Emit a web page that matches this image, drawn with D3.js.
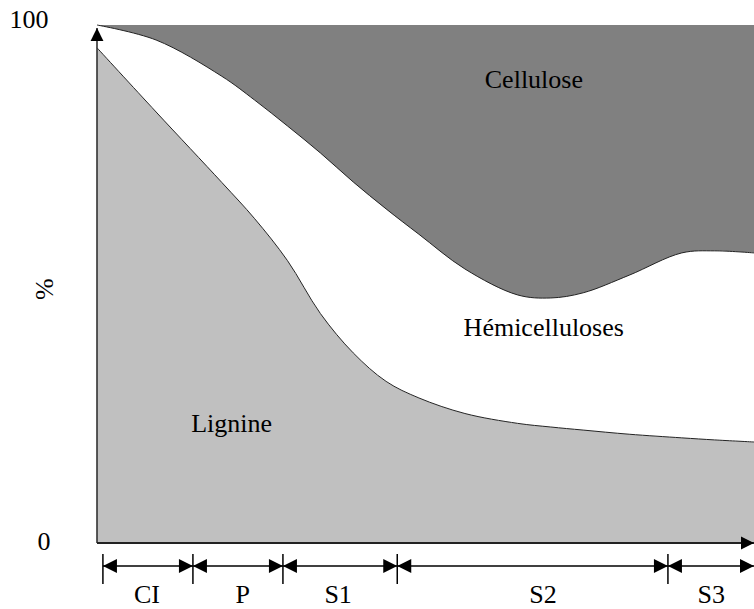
<!DOCTYPE html>
<html>
<head>
<meta charset="utf-8">
<script src="https://cdn.jsdelivr.net/npm/d3@7"></script>
<style>
  html, body { margin: 0; padding: 0; background: #fff; }
  svg { display: block; }
  svg text { font-family: "Liberation Serif", "Times New Roman", "DejaVu Serif", serif; }
</style>
</head>
<body>
<div id="chart"></div>
<script>
// ── Data (x = position across the wall, 0..100 ; values in %) ──────────

const xPos        = [0, 9, 19, 24, 29, 34, 39, 44, 49, 56, 64, 69, 74, 81, 89, 94, 100];
const lignine     = [95.6, 83.2, 69.6, 62.6, 54.5, 44.3, 36.7, 31.2, 28.0, 25.0, 23.1, 22.4, 21.8, 21.0, 20.3, 19.9, 19.5];
const hemicell    = [4.4, 13.9, 20.5, 22.9, 26.0, 31.0, 33.0, 33.3, 31.6, 27.9, 24.8, 24.9, 26.5, 30.7, 35.7, 36.5, 36.5];
const cellulose   = [0.0, 2.9, 9.9, 14.5, 19.5, 24.7, 30.3, 35.5, 40.4, 47.1, 52.1, 52.7, 51.7, 48.3, 44.0, 43.6, 44.0];

const layerNames  = ["Lignine", "Hémicelluloses", "Cellulose"];
const layerLabelX = [20.5, 68.0, 66.5];
const layerLabelY = [21.4, 39.9, 87.8];

const layerBounds = [0.9, 14.6, 28.3, 45.7, 86.9, 100];
const layerTags   = ["CI", "P", "S1", "S2", "S3"];
const layerTagX   = [7.6, 22.2, 36.7, 67.9, 93.5];

const yTicks = [0, 100];

// ── Setup ──────────────────────────────────────────────────────────────

const W = 754, H = 609;
const svg = d3.select("#chart").append("svg").attr("width", W).attr("height", H);

const x = d3.scaleLinear().domain([0, 100]).range([97, 754]);
const y = d3.scaleLinear().domain([0, 100]).range([543, 25]);

const table = xPos.map((p, i) => ({
  pos: p, Lignine: lignine[i], "Hémicelluloses": hemicell[i], Cellulose: cellulose[i]
}));
const series = d3.stack().keys(layerNames)(table);

const FILL = { "Lignine": "#c0c0c0", "Hémicelluloses": "#ffffff", "Cellulose": "#808080" };
const curve = d3.curveCatmullRom.alpha(0.5);

// ── Markers ────────────────────────────────────────────────────────────

const defs = svg.append("defs");
defs.append("marker").attr("id", "head")
  .attr("viewBox", "0 0 10 10").attr("refX", 10).attr("refY", 5)
  .attr("markerUnits", "userSpaceOnUse").attr("markerWidth", 16).attr("markerHeight", 14)
  .attr("orient", "auto-start-reverse")
  .append("path").attr("d", "M0,0L10,5L0,10Z").attr("fill", "#000");
defs.append("marker").attr("id", "axhead")
  .attr("viewBox", "0 0 10 10").attr("refX", 10).attr("refY", 5)
  .attr("markerUnits", "userSpaceOnUse").attr("markerWidth", 13).attr("markerHeight", 15)
  .attr("orient", "auto")
  .append("path").attr("d", "M0,0L10,5L0,10Z").attr("fill", "#000");

// ── Areas ──────────────────────────────────────────────────────────────

const area = d3.area().curve(curve)
  .x(d => x(d.data.pos)).y0(d => y(d[0])).y1(d => y(d[1]));

svg.append("g").selectAll("path").data(series).join("path")
  .attr("d", area).attr("fill", s => FILL[s.key]);

const edge = d3.line().curve(curve)
  .x(d => x(d.data.pos)).y(d => y(d[1]));

svg.append("g").selectAll("path").data(series.slice(0, 2)).join("path")
  .attr("d", edge).attr("fill", "none").attr("stroke", "#222").attr("stroke-width", 1);

// ── Layer labels ───────────────────────────────────────────────────────

svg.append("g").selectAll("text").data(layerNames).join("text")
  .attr("x", (d, i) => x(layerLabelX[i])).attr("y", (d, i) => y(layerLabelY[i]))
  .attr("text-anchor", "middle").attr("font-size", 26).attr("fill", "#000")
  .text(d => d);

// ── Axes ───────────────────────────────────────────────────────────────

svg.append("line")
  .attr("x1", x(0)).attr("y1", y(0)).attr("x2", x(0)).attr("y2", y(99.4))
  .attr("stroke", "#333").attr("stroke-width", 1.6).attr("marker-end", "url(#axhead)");
svg.append("line")
  .attr("x1", x(0)).attr("y1", y(0)).attr("x2", x(100)).attr("y2", y(0))
  .attr("stroke", "#222").attr("stroke-width", 1.8).attr("marker-end", "url(#axhead)");

svg.append("g").selectAll("text").data(yTicks).join("text")
  .attr("x", d => d === 0 ? 44 : 29).attr("y", d => y(d) + (d === 0 ? 7 : 3))
  .attr("text-anchor", "middle").attr("font-size", 26).text(d => d);

svg.append("text")
  .attr("transform", `translate(53,${y(49)}) rotate(-90)`)
  .attr("text-anchor", "middle").attr("font-size", 26).text("%");

// ── Wall layers (CI, P, S1, S2, S3) ───────────────────────────────────

const segY = 566;
const segs = layerTags.map((t, i) => ({ t, a: layerBounds[i], b: layerBounds[i + 1], lx: layerTagX[i] }));

const sg = svg.append("g");
sg.selectAll("line.seg").data(segs).join("line").attr("class", "seg")
  .attr("x1", d => x(d.a)).attr("x2", d => x(d.b)).attr("y1", segY).attr("y2", segY)
  .attr("stroke", "#000").attr("stroke-width", 1.5)
  .attr("marker-start", "url(#head)").attr("marker-end", "url(#head)");

sg.selectAll("line.tick").data(layerBounds.slice(0, -1)).join("line").attr("class", "tick")
  .attr("x1", d => x(d)).attr("x2", d => x(d)).attr("y1", segY - 12).attr("y2", segY + 18)
  .attr("stroke", "#000").attr("stroke-width", 1.5);

sg.selectAll("text").data(segs).join("text")
  .attr("x", d => x(d.lx)).attr("y", 603)
  .attr("text-anchor", "middle").attr("font-size", 26).text(d => d.t);
</script>
</body>
</html>
